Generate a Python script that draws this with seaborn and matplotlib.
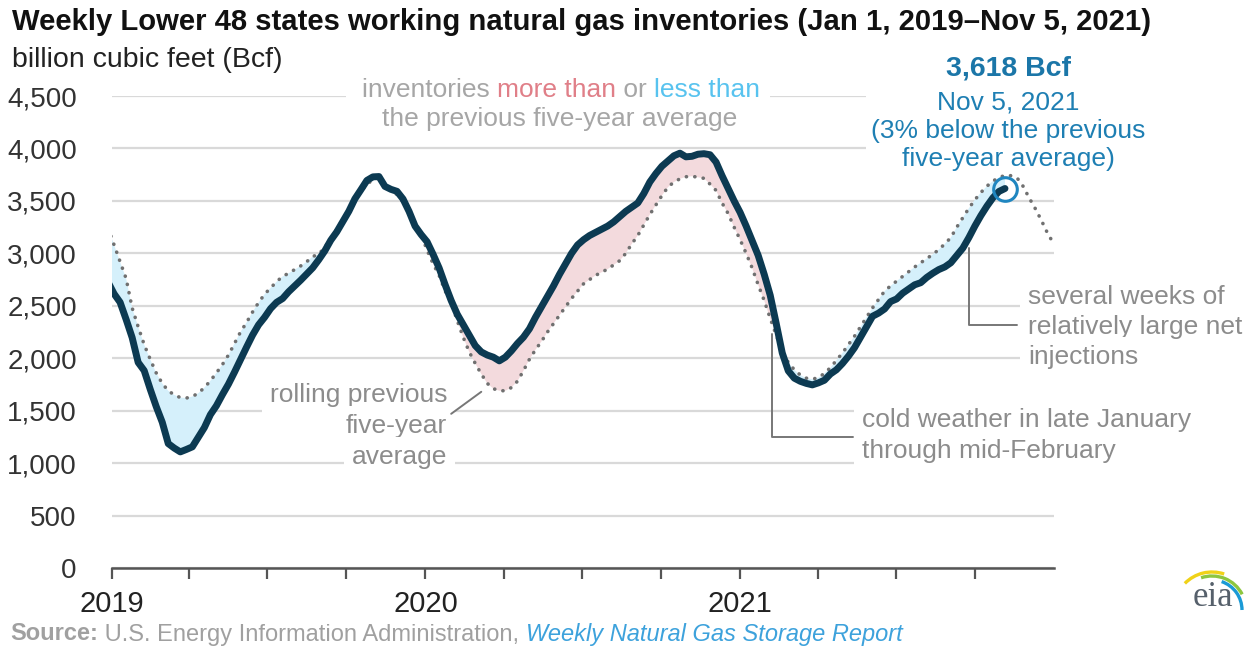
import numpy as np
import pandas as pd
import seaborn as sns
import matplotlib.pyplot as plt
import matplotlib.dates as mdates
from matplotlib.patches import Arc, Rectangle

# weekly Lower 48 working gas in storage, Bcf (week ending Dec 28, 2018 ... Nov 5, 2021)
storage = [2725,
    2614, 2533, 2370, 2197, 1960, 1882, 1705, 1539, 1390, 1186,
    1143, 1107, 1130, 1155, 1247, 1339, 1462, 1547, 1653, 1753,
    1867, 1986, 2105, 2220, 2318, 2390, 2473, 2533, 2569, 2634,
    2689, 2744, 2803, 2862, 2939, 3023, 3125, 3205, 3303, 3401,
    3519, 3606, 3695, 3729, 3732, 3638, 3610, 3591, 3518, 3400,
    3260, 3180, 3110, 2990, 2860, 2700, 2550, 2420, 2320, 2220,
    2120, 2060, 2030, 2010, 1975, 2010, 2070, 2140, 2200, 2280,
    2390, 2490, 2590, 2690, 2800, 2900, 3000, 3080, 3130, 3170,
    3200, 3230, 3260, 3300, 3350, 3400, 3440, 3480, 3570, 3680,
    3760, 3830, 3880, 3930, 3955, 3920, 3925, 3945, 3950, 3940,
    3870, 3740, 3620, 3500, 3390, 3260, 3120, 2980, 2800, 2600,
    2330, 2050, 1880, 1810, 1780, 1760, 1746, 1765, 1790, 1850,
    1890, 1950, 2020, 2100, 2200, 2300, 2400, 2430, 2470, 2540,
    2565, 2620, 2660, 2700, 2720, 2770, 2810, 2845, 2870, 2910,
    2980, 3050, 3150, 3260, 3360, 3450, 3530, 3590, 3618]

# rolling previous five-year average (week ending Dec 28, 2018 ... Dec 31, 2021)
five_yr_avg = [3240,
    3080, 2920, 2760, 2480, 2300, 2130, 1990, 1860, 1760, 1690,
    1650, 1625, 1620, 1635, 1667, 1720, 1785, 1860, 1940, 2030,
    2140, 2250, 2340, 2440, 2530, 2610, 2670, 2730, 2780, 2810,
    2845, 2880, 2920, 2970, 2990, 3060, 3140, 3230, 3320, 3410,
    3500, 3590, 3660, 3700, 3720, 3660, 3610, 3560, 3490, 3390,
    3280, 3180, 3030, 2900, 2790, 2640, 2530, 2360, 2200, 2060,
    1950, 1850, 1760, 1710, 1690, 1690, 1720, 1780, 1880, 1990,
    2080, 2160, 2250, 2330, 2410, 2490, 2570, 2640, 2710, 2750,
    2790, 2820, 2850, 2890, 2930, 3000, 3090, 3170, 3270, 3370,
    3460, 3550, 3630, 3680, 3710, 3730, 3735, 3725, 3715, 3660,
    3600, 3480, 3380, 3250, 3130, 3000, 2860, 2700, 2550, 2380,
    2220, 2070, 1960, 1890, 1840, 1810, 1800, 1815, 1855, 1910,
    1980, 2050, 2130, 2210, 2300, 2390, 2480, 2560, 2640, 2690,
    2735, 2780, 2825, 2870, 2910, 2950, 2990, 3035, 3090, 3150,
    3250, 3340, 3430, 3510, 3580, 3640, 3690, 3720, 3745, 3740,
    3720, 3640, 3530, 3430, 3320, 3200, 3100]

year_labels = ["2019", "2020", "2021"]
y_ticks = [0, 500, 1000, 1500, 2000, 2500, 3000, 3500, 4000, 4500]

avg_dates = pd.date_range("2018-12-28", periods=len(five_yr_avg), freq="7D")
stor_dates = avg_dates[:len(storage)]
df_stor = pd.DataFrame({"date": stor_dates, "bcf": storage})
df_avg = pd.DataFrame({"date": avg_dates, "bcf": five_yr_avg})

navy = "#0c3a52"
gray_txt = "#a6a6a6"
note_gray = "#8c8c8c"
blue_txt = "#1e7fb3"

sns.set_theme(style="white")
plt.rcParams["font.family"] = ["Liberation Sans", "DejaVu Sans"]

fig = plt.figure(figsize=(12.45, 6.48), dpi=100)
W, H = 1245, 648
ax = fig.add_axes([111.5 / W, 1 - 568 / H, (1054 - 111.5) / W, (568 - 96) / H])


def fp(px, py):
    return px / W, 1 - py / H


# shaded gap between inventories and the average
xs = mdates.date2num(stor_dates)
avg_part = np.array(five_yr_avg[:len(storage)], dtype=float)
st = np.array(storage, dtype=float)
ax.fill_between(xs, st, avg_part, where=st >= avg_part, interpolate=True,
                color="#f3dadd", lw=0, zorder=1.2)
ax.fill_between(xs, st, avg_part, where=st <= avg_part, interpolate=True,
                color="#d5f0fb", lw=0, zorder=1.2)

sns.lineplot(data=df_avg, x="date", y="bcf", ax=ax, color="#707070", lw=2.6,
             linestyle=(0, (0.05, 2.3)), dash_capstyle="round", zorder=2)
sns.lineplot(data=df_stor, x="date", y="bcf", ax=ax, color=navy, lw=5,
             solid_capstyle="round", zorder=3)
ax.plot(stor_dates[-1], storage[-1], "o", mfc="none", mec="#1f86c0", ms=17, mew=2.2, zorder=4)

ax.set_xlim(pd.Timestamp("2019-01-01"), pd.Timestamp("2022-01-01"))
ax.set_ylim(0, 4500)
ax.set_yticks(y_ticks)
ax.set_yticklabels([f"{v:,}" for v in y_ticks])
ax.yaxis.grid(True, color="#d9d9d9", lw=1.6)
ax.set_axisbelow(True)
for s in ["top", "right", "left"]:
    ax.spines[s].set_visible(False)
ax.spines["bottom"].set_color("#555555")
ax.spines["bottom"].set_linewidth(1.8)

ax.set_xticks([pd.Timestamp(f"{y}-01-01") for y in year_labels])
ax.set_xticklabels(year_labels)
ax.xaxis.set_minor_locator(mdates.MonthLocator(bymonth=[4, 7, 10]))
ax.tick_params(axis="x", which="both", bottom=True, direction="out", length=8, width=1.6,
               color="#555555")
ax.tick_params(axis="x", which="major", labelsize=21, labelcolor="#222222", pad=8)
ax.tick_params(axis="y", left=False, labelsize=20, labelcolor="#333333", pad=19)
ax.set_xlabel("")
ax.set_ylabel("")

# titles
fig.text(*fp(12, 22), "Weekly Lower 48 states working natural gas inventories (Jan 1, 2019\u2013Nov 5, 2021)",
         fontsize=21.1, fontweight="bold", color="#111111", va="center", ha="left")
fig.text(*fp(12, 60), "billion cubic feet (Bcf)", fontsize=20.5, color="#222222", va="center", ha="left")

fs = 19
wbox = dict(boxstyle="square,pad=0.3", fc="white", ec="none")
tkw = dict(transform=fig.transFigure, clip_on=False, zorder=1.5, fontsize=fs)

# legend-like note with coloured words (white strip hides the gridline behind it)
x0, y0 = fp(346, 104)
ax.add_patch(Rectangle((x0, y0), (770 - 346) / W, 26 / H, fc="white", ec="none",
                       transform=fig.transFigure, clip_on=False, zorder=1.4))
t = ax.text(*fp(362, 90), "inventories ", color=gray_txt, va="center", ha="left", **tkw)
for part, col in [("more than", "#e07f88"), (" or ", gray_txt), ("less than", "#58c3ef")]:
    t = ax.annotate(part, xy=(1, 0), xycoords=t, va="bottom", ha="left", color=col,
                    fontsize=fs, zorder=1.5, annotation_clip=False)
ax.text(*fp(560, 119), "the previous five-year average", color=gray_txt, va="center", ha="center", **tkw)

# rolling average label
for txt, py in [("rolling previous", 395), ("five-year", 426), ("average", 457)]:
    ax.text(*fp(447, py), txt, color=note_gray, va="center", ha="right", bbox=wbox, **tkw)
ax.plot([pd.Timestamp("2020-01-31"), pd.Timestamp("2020-03-06")], [1470, 1680],
        color="#777777", lw=1.4, zorder=1.6)

# cold weather note
ax.plot([pd.Timestamp("2021-02-07"), pd.Timestamp("2021-02-07"), pd.Timestamp("2021-05-12")],
        [2230, 1250, 1250], color="#777777", lw=1.4, zorder=1.6, clip_on=False)
for txt, py in [("cold weather in late January", 420), ("through mid-February", 451)]:
    ax.text(*fp(862, py), txt, color=note_gray, va="center", ha="left", bbox=wbox, **tkw)

# injections note
ax.plot([pd.Timestamp("2021-09-24"), pd.Timestamp("2021-09-24"), pd.Timestamp("2021-11-19")],
        [3050, 2320, 2320], color="#777777", lw=1.4, zorder=1.6, clip_on=False)
for txt, py in [("several weeks of", 297), ("relatively large net", 327), ("injections", 357)]:
    ax.text(*fp(1028, py), txt, color=note_gray, va="center", ha="left", bbox=wbox, **tkw)

# latest value callout
ax.text(*fp(1008, 131), "Nov 5, 2021\n(3% below the previous\nfive-year average)", color=blue_txt,
        va="center", ha="center", linespacing=1.22,
        bbox=dict(boxstyle="square,pad=0.2", fc="white", ec="none"), **tkw)
fig.text(*fp(1008, 69), "3,618 Bcf", color="#1b76a8", fontsize=20.5, fontweight="bold",
         va="center", ha="center")

# source line
t = fig.text(*fp(10, 634), "Source:", fontsize=17, fontweight="bold", color="#a0a0a0",
             va="center", ha="left")
t = ax.annotate(" U.S. Energy Information Administration, ", xy=(1, 0), xycoords=t, va="bottom",
                ha="left", fontsize=17, color="#a0a0a0", annotation_clip=False)
ax.annotate("Weekly Natural Gas Storage Report", xy=(1, 0), xycoords=t, va="bottom", ha="left",
            fontsize=17, color="#3da2dc", style="italic", annotation_clip=False)

# eia logo
fig.text(*fp(1213, 597), "eia", fontsize=25, family="Liberation Serif", color="#56606b",
         va="center", ha="center")
for col, r, t1, t2 in [("#1a9ad6", 30, 0, 80), ("#8dc63f", 34, 45, 100), ("#f0d218", 38, 80, 118)]:
    fig.add_artist(Arc(fp(1212, 610), 2 * r / W, 2 * r / H, theta1=t1, theta2=t2, color=col,
                       lw=2.4, transform=fig.transFigure))

fig.savefig("out.png", dpi=100)
